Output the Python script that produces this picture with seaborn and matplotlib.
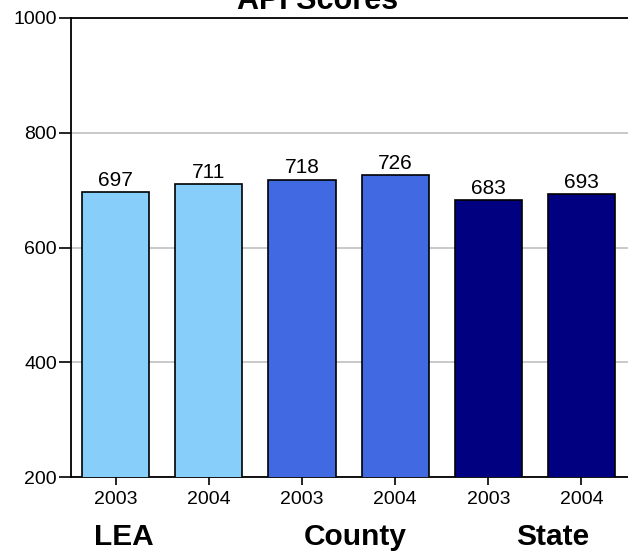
import matplotlib
matplotlib.use("Agg")
import matplotlib.pyplot as plt
import seaborn as sns
import pandas as pd

# данные
years = ["2003", "2004", "2003", "2004", "2003", "2004"]
groups = ["LEA", "LEA", "County", "County", "State", "State"]
scores = [697, 711, 718, 726, 683, 693]
group_colors = {"LEA": "#87CEFA", "County": "#4169E1", "State": "#000080"}
group_label_pos = {"LEA": 0.09, "County": 2.57, "State": 4.69}

df = pd.DataFrame({"pos": range(len(scores)), "year": years,
                   "group": groups, "score": scores})

sns.set_style("white")
plt.rcParams["font.family"] = ["Liberation Sans", "DejaVu Sans"]
plt.rcParams["text.color"] = "black"
plt.rcParams["xtick.color"] = "black"
plt.rcParams["ytick.color"] = "black"

fig = plt.figure(figsize=(6.28, 5.54), dpi=100)
ax = fig.add_axes([71 / 628, 1 - 477 / 554, 1 - 71 / 628, (477 - 18) / 554])

sns.barplot(data=df, x="pos", y="score", hue="group", palette=group_colors,
            dodge=False, width=0.72, edgecolor="black", linewidth=1.2,
            saturation=1, legend=False, ax=ax, zorder=3)

ax.set_ylim(200, 1000)
ax.set_xlim(-0.48, 5.5)
ax.set_yticks([200, 400, 600, 800, 1000])
ax.yaxis.grid(True, color="#c0c0c0", linewidth=1.2, zorder=0)
ax.set_axisbelow(True)
ax.set_xticks(range(len(years)))
ax.set_xticklabels(years)
ax.tick_params(axis="both", labelsize=14, direction="out", width=1.2,
               color="black", left=True, bottom=True)
ax.tick_params(axis="y", length=9, pad=1)
ax.tick_params(axis="x", length=6, pad=4)
ax.set_xlabel("")
ax.set_ylabel("")
for side in ["left", "bottom", "top"]:
    ax.spines[side].set_color("black")
    ax.spines[side].set_linewidth(1.3)
ax.spines["right"].set_visible(False)

# подписи значений над столбцами
for i, v in enumerate(scores):
    ax.text(i, v + 11, str(v), ha="center", va="baseline", fontsize=15)

# подписи групп
for name, x in group_label_pos.items():
    ax.text(x, -0.148, name, transform=ax.get_xaxis_transform(),
            ha="center", va="baseline", fontsize=21.5, fontweight="bold")

fig.text(318 / 628, 1 - 9 / 554, "API Scores", ha="center", va="baseline",
         fontsize=22, fontweight="bold")

fig.savefig("out.png", dpi=100)
